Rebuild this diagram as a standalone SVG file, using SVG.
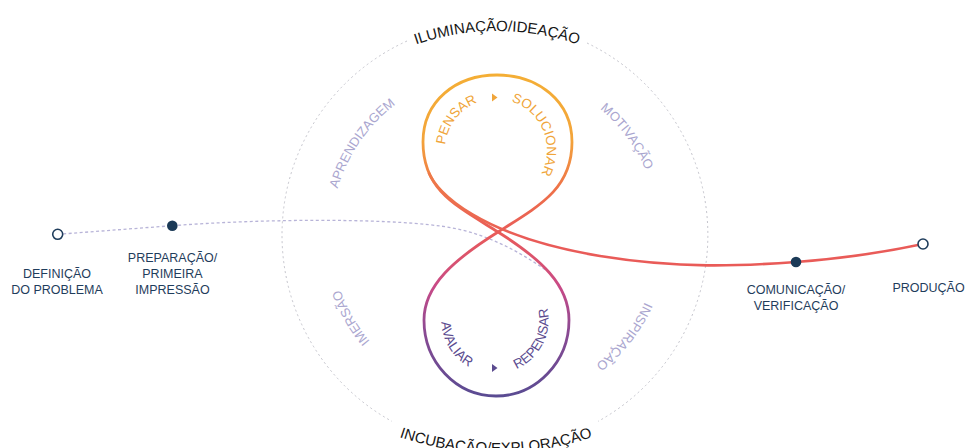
<svg xmlns="http://www.w3.org/2000/svg" width="966" height="448" viewBox="0 0 966 448">
  <style>
    text { font-family: "Liberation Sans", Arial, sans-serif; }
    .stage { font-size: 12.5px; fill: #1f3d5c; text-anchor: middle; }
    .phase { font-size: 15px; fill: #151515; }
    .mood { font-size: 13px; fill: #aaa6cf; }
    .upper { font-size: 13.5px; fill: #f0a53a; }
    .lower { font-size: 13.5px; fill: #5b4b8f; }
    .ring { fill: none; stroke: #c4c4cc; stroke-width: 1; stroke-dasharray: 2 3; }
    .prep { fill: none; stroke: #b8b4d8; stroke-width: 1.3; stroke-dasharray: 3 2.5; }
    .open { fill: #ffffff; stroke: #1f3d5c; stroke-width: 1.6; }
    .dot { fill: #1b3a57; }
  </style>
  <defs>
    <linearGradient id="loopGrad" gradientUnits="userSpaceOnUse" x1="0" y1="75" x2="0" y2="396">
      <stop offset="0" stop-color="#f4ae35"/>
      <stop offset="0.2" stop-color="#f3a43a"/>
      <stop offset="0.36" stop-color="#ee7049"/>
      <stop offset="0.5" stop-color="#e85a5a"/>
      <stop offset="0.66" stop-color="#c84a87"/>
      <stop offset="0.8" stop-color="#8a4a93"/>
      <stop offset="1" stop-color="#5a4b92"/>
    </linearGradient>
    <linearGradient id="exitGrad" gradientUnits="userSpaceOnUse" x1="428" y1="172" x2="520" y2="245">
      <stop offset="0" stop-color="#ee7a48"/>
      <stop offset="1" stop-color="#e95b58"/>
    </linearGradient>
    <path id="topArc" d="M247,281 A250,250 0 0 1 747,281"/>
    <path id="botArc" d="M196,153 A300,300 0 0 0 796,153"/>
    <path id="sideRing" d="M659,235 A164,164 0 1 1 331,235 A164,164 0 1 1 659,235"/>
    <path id="upRing" d="M496,201 A51,51 0 1 1 496,99 A51,51 0 1 1 496,201"/>
    <path id="lowRing" d="M495,266.5 A53.5,53.5 0 1 0 495,373.5 A53.5,53.5 0 1 0 495,266.5"/>
  </defs>

  <!-- dashed outer ring, open where the phase titles sit -->
  <g id="outer-ring">
    <path class="ring" d="M407,41 A213,213 0 0 0 392,421.4"/>
    <path class="ring" d="M587,43 A213,213 0 0 1 598,421.4"/>
  </g>

  <!-- phase titles -->
  <g id="phase-top">
    <text class="phase"><textPath href="#topArc" startOffset="50%" text-anchor="middle">ILUMINAÇÃO/IDEAÇÃO</textPath></text>
  </g>
  <g id="phase-bottom">
    <text class="phase"><textPath href="#botArc" startOffset="50%" text-anchor="middle">INCUBAÇÃO/EXPLORAÇÃO</textPath></text>
  </g>

  <!-- ring labels -->
  <g id="ring-labels">
    <text class="mood"><textPath href="#sideRing" startOffset="59.6%" text-anchor="middle">APRENDIZAGEM</textPath></text>
    <text class="mood"><textPath href="#sideRing" startOffset="89.8%" text-anchor="middle">MOTIVAÇÃO</textPath></text>
    <text class="mood"><textPath href="#sideRing" startOffset="41.7%" text-anchor="middle">IMERSÃO</textPath></text>
    <text class="mood"><textPath href="#sideRing" startOffset="10.6%" text-anchor="middle">INSPIRAÇÃO</textPath></text>
  </g>

  <!-- connectors -->
  <g id="connectors">
    <path class="prep" d="M57.7,234.3 L172.3,225.7 C260,219 380,218 440,226 C480,231 515,248 550,273"/>
    <path fill="none" stroke="url(#loopGrad)" stroke-width="2.8" stroke-linejoin="round"
      d="M498,232 C455,205 423,190 423,142 C423,101 456,75 497,75 C538,75 572,101 572,142 C572,188 541,205 498,232 C455,259 424,285 424,320 C424,362 456,396 496,396 C536,396 569,362 569,320 C569,285 541,259 498,232 Z"/>
    <path fill="none" stroke="url(#exitGrad)" stroke-width="2.6"
      d="M428.7,172.5 C437,193 480,236 600,256 C680,269 740,266 796,262 C850,258 890,251 923,244"/>
    <polygon points="492,93.5 497.5,97.5 492,101.5" fill="#f0a53a"/>
    <polygon points="492,364 497.5,368 492,372" fill="#5b4b8f"/>
  </g>

  <!-- loop labels -->
  <g id="loop-upper">
    <text class="upper"><textPath href="#upRing" startOffset="35.3%" text-anchor="middle">PENSAR</textPath></text>
    <text class="upper"><textPath href="#upRing" startOffset="68.8%" text-anchor="middle">SOLUCIONAR</textPath></text>
  </g>
  <g id="loop-lower">
    <text class="lower"><textPath href="#lowRing" startOffset="33.8%" text-anchor="middle">AVALIAR</textPath></text>
    <text class="lower"><textPath href="#lowRing" startOffset="67.6%" text-anchor="middle">REPENSAR</textPath></text>
  </g>

  <!-- stages -->
  <g id="definicao">
    <circle class="open" cx="57.7" cy="234.3" r="5"/>
    <text class="stage" x="57" y="278">DEFINIÇÃO</text>
    <text class="stage" x="57" y="294">DO PROBLEMA</text>
  </g>
  <g id="preparacao">
    <circle class="dot" cx="172.3" cy="225.7" r="5.3"/>
    <text class="stage" x="172.5" y="262">PREPARAÇÃO/</text>
    <text class="stage" x="172.5" y="278">PRIMEIRA</text>
    <text class="stage" x="172.5" y="294">IMPRESSÃO</text>
  </g>
  <g id="comunicacao">
    <circle class="dot" cx="796" cy="262" r="5.3"/>
    <text class="stage" x="796" y="294">COMUNICAÇÃO/</text>
    <text class="stage" x="796" y="310">VERIFICAÇÃO</text>
  </g>
  <g id="producao">
    <circle class="open" cx="923" cy="244" r="5"/>
    <text class="stage" x="928.5" y="292">PRODUÇÃO</text>
  </g>
</svg>
